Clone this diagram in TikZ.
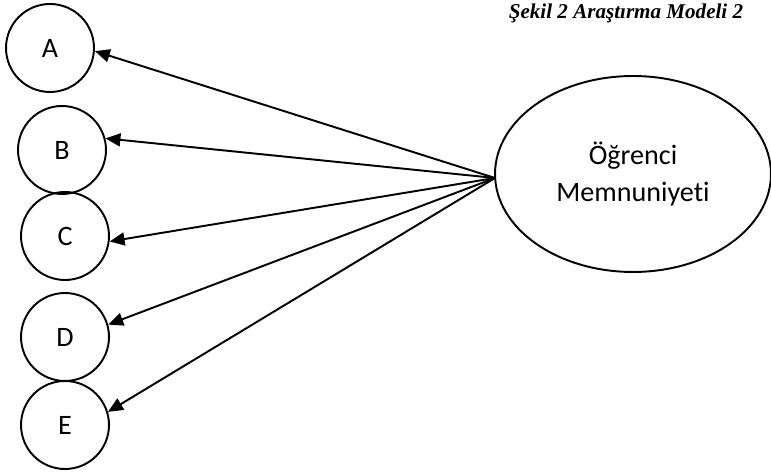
\documentclass[tikz,border=0pt]{standalone}
\usepackage{fontspec}
\setmainfont{Carlito}[Ligatures=NoCommon]
\newfontfamily\capfont{Liberation Serif}
\usetikzlibrary{arrows.meta,shapes.geometric}
\tikzset{fac/.style={circle, draw, minimum size=1.76cm, inner sep=0pt,
  font=\fontsize{16}{19}\selectfont},
  hubnode/.style={ellipse, draw, minimum width=5.52cm, minimum height=3.92cm,
  inner sep=0pt, align=center, font=\fontsize{16}{21}\selectfont}}

\begin{document}
\begin{tikzpicture}[x=0.02cm, y=-0.02cm, >={Triangle[length=3mm, width=2.6mm]},
  line width=1.1pt]
  \useasboundingbox (0,0) rectangle (771,475);
  \node[font=\capfont\bfseries\itshape\fontsize{12}{14}\selectfont] (cap) at (626,13)
    {Şekil 2 Araştırma Modeli 2};
  \node[fac] (A) at (50,48)  {A};
  \node[fac] (B) at (62,150) {B};
  \node[fac] (C) at (65,236) {C};
  \node[fac] (D) at (65,337) {D};
  \node[fac] (E) at (65,425) {E};
  \node[hubnode] (om) at (633,174) {Öğrenci\\Memnuniyeti};
  \coordinate (hub) at (495,178);
  \draw[->] (hub) -- (A.-4);
  \draw[->] (hub) -- (B.15);
  \draw[->] (hub) -- (C.-7);
  \draw[->] (hub) -- (D.16);
  \draw[->] (hub) -- (E.17);
\end{tikzpicture}
\end{document}
